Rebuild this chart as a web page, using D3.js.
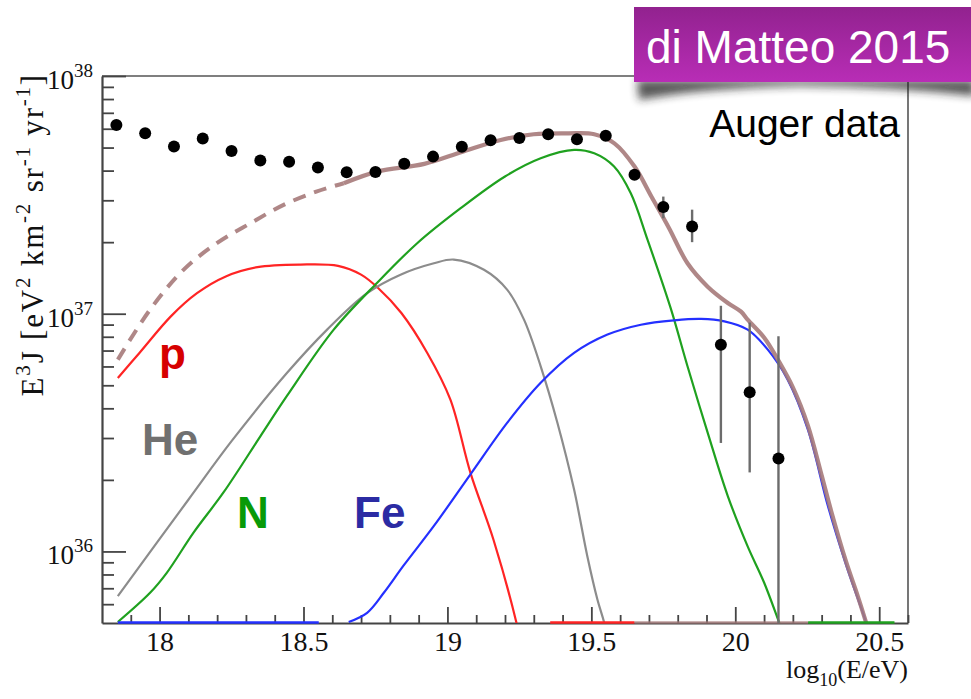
<!DOCTYPE html>
<html>
<head>
<meta charset="utf-8">
<script src="https://cdn.jsdelivr.net/npm/d3@7"></script>
<style>
  html, body { margin: 0; padding: 0; background: #fff; }
  svg { display: block; }
</style>
</head>
<body>
<svg id="chart" width="971" height="699"></svg>
<script>
// ---- Auger combined spectrum, E^3 J ----
const augerLogE = [17.85, 17.95, 18.05, 18.15, 18.25, 18.35, 18.45, 18.55, 18.65, 18.75,
                   18.85, 18.95, 19.05, 19.15, 19.25, 19.35, 19.45, 19.55, 19.65, 19.75,
                   19.85, 19.95, 20.05, 20.15];
const augerFlux = [6.22e37, 5.74e37, 5.05e37, 5.46e37, 4.84e37, 4.41e37, 4.36e37, 4.12e37,
                   3.94e37, 3.95e37, 4.27e37, 4.58e37, 5.04e37, 5.37e37, 5.48e37, 5.69e37,
                   5.42e37, 5.61e37, 3.84e37, 2.81e37, 2.33e37, 7.41e36, 4.67e36, 2.46e36];
const augerErrLow  = [null, null, null, null, null, null, null, null, null, null, null, null,
                      null, null, null, null, null, null, 3.66e37, 2.52e37, 2.00e37, 2.86e36,
                      2.15e36, 3.0e35];
const augerErrHigh = [null, null, null, null, null, null, null, null, null, null, null, null,
                      null, null, null, null, null, null, 4.04e37, 3.11e37, 2.74e37, 1.08e37,
                      9.18e36, 8.04e36];

// ---- model components (log10 E, E^3 J) ----
const pLogE  = [17.855, 17.93, 18.04, 18.13, 18.23, 18.34, 18.49, 18.62, 18.70, 18.76,
                18.84, 18.93, 19.01, 19.08, 19.16, 19.24, 19.30];
const pFlux  = [5.37e36, 6.84e36, 9.77e36, 1.22e37, 1.435e37, 1.57e37, 1.61e37, 1.59e37,
                1.46e37, 1.28e37, 1.007e37, 6.84e36, 4.36e36, 2.14e36, 1.12e36, 5.0e35, 2.2e35];

const heLogE = [17.855, 18.10, 18.25, 18.443, 18.582, 18.721, 18.837, 18.953, 19.022,
                19.127, 19.208, 19.266, 19.324, 19.382, 19.440, 19.486, 19.521, 19.545, 19.58];
const heFlux = [6.49e35, 1.65e36, 2.91e36, 5.64e36, 8.57e36, 1.22e37, 1.46e37,
                1.63e37, 1.69e37, 1.53e37, 1.26e37, 9.44e36, 6.01e36, 3.48e36, 1.82e36,
                9.55e35, 6.28e35, 5.0e35, 3.2e35];

const nLogE  = [17.855, 17.967, 18.025, 18.118, 18.222, 18.350, 18.443, 18.605, 18.756, 18.895,
                19.046, 19.20, 19.324, 19.440, 19.510, 19.579, 19.637, 19.695, 19.775, 19.834,
                19.904, 19.974, 20.043, 20.10, 20.153, 20.20];
const nFlux  = [5.05e35, 6.70e35, 8.13e35, 1.20e36, 1.77e36, 3.05e36, 4.52e36, 8.57e36,
                1.35e37, 1.98e37, 2.78e37, 3.78e37, 4.51e37, 4.89e37, 4.73e37, 4.16e37,
                3.21e37, 2.05e37, 1.06e37, 6.01e36, 3.16e36, 1.71e36, 1.05e36, 7.4e35,
                5.0e35, 3.5e35];

const feLogE = [18.657, 18.721, 18.779, 18.848, 18.953, 19.080, 19.208, 19.324, 19.440, 19.556,
                19.672, 19.788, 19.881, 19.962, 20.043, 20.113, 20.182, 20.252, 20.322, 20.384,
                20.426, 20.455, 20.50];
const feFlux = [5.05e35, 5.52e35, 6.70e35, 8.73e35, 1.28e36, 2.11e36, 3.48e36, 5.12e36,
                6.84e36, 8.17e36, 8.99e36, 9.38e36, 9.51e36, 9.29e36, 8.57e36, 7.06e36,
                5.28e36, 3.26e36, 1.55e36, 8.85e35, 6.31e35, 5.0e35, 3.2e35];

const totalLogE = [17.855, 17.967, 18.083, 18.199, 18.315, 18.431, 18.547, 18.640, 18.756, 18.92,
                   19.05, 19.185, 19.30, 19.42, 19.51, 19.58, 19.65, 19.71, 19.77, 19.834,
                   19.904, 19.974, 20.020, 20.043, 20.10, 20.148, 20.20, 20.252, 20.30, 20.333,
                   20.384, 20.426, 20.455];
const totalFlux = [6.41e36, 1.04e37, 1.53e37, 1.98e37, 2.40e37, 2.87e37, 3.27e37, 3.54e37,
                   3.96e37, 4.27e37, 4.79e37, 5.38e37, 5.69e37, 5.74e37, 5.69e37, 5.21e37,
                   4.16e37, 3.09e37, 2.29e37, 1.63e37, 1.30e37, 1.11e37, 1.02e37, 9.44e36,
                   7.94e36, 6.41e36, 4.90e36, 3.39e36, 2.09e36, 1.48e36, 9.12e35, 6.46e35, 5.0e35];
// model is fitted above this energy; extrapolated (dashed) below it
const fitThresholdLogE = 18.64;

// energy ranges where a component carries no flux (drawn on the lower edge)
const zeroRuns = [
  { series: "Fe",    from: 17.855, to: 18.553 },
  { series: "p",     from: 19.357, to: 19.650 },
  { series: "total", from: 19.650, to: 20.253 },
  { series: "N",     from: 20.253, to: 20.553 }
];

// ---- axes ----
const xDomain = [17.8, 20.6];
const yDomain = [5e35, 1e38];
const xMajorTicks = [18, 18.5, 19, 19.5, 20, 20.5];
const xTickLabels = ["18", "18.5", "19", "19.5", "20", "20.5"];
const yMajorTicks = [1e36, 1e37, 1e38];
const yTickExponents = ["36", "37", "38"];

// ---- drawing ----
const plot = { left: 102, right: 908, top: 76, bottom: 623 };
const axisColor = "#444";
const serif = "'Liberation Serif', 'Times New Roman', Times, serif";
const sans = "'Liberation Sans', Arial, Helvetica, sans-serif";

const colors = { p: "#ff2424", He: "#8c8c8c", N: "#1fa11f", Fe: "#2430ff", total: "#a67a7a" };

const svg = d3.select("#chart");
const x = d3.scaleLinear().domain(xDomain).range([plot.left, plot.right]);
const y = d3.scaleLog().domain(yDomain).range([plot.bottom, plot.top]);

const defs = svg.append("defs");
defs.append("clipPath").attr("id", "plotClip")
  .append("rect")
  .attr("x", plot.left).attr("y", plot.top)
  .attr("width", plot.right - plot.left).attr("height", plot.bottom - plot.top);

const grad = defs.append("linearGradient").attr("id", "tagGrad")
  .attr("x1", 0).attr("y1", 0).attr("x2", 0).attr("y2", 1);
grad.append("stop").attr("offset", "0%").attr("stop-color", "#92228f");
grad.append("stop").attr("offset", "100%").attr("stop-color", "#b82db6");

const blur = defs.append("filter").attr("id", "soft")
  .attr("x", "-20%").attr("y", "-50%").attr("width", "140%").attr("height", "200%");
blur.append("feGaussianBlur").attr("stdDeviation", 4);

// frame (top and right edges)
svg.append("path")
  .attr("d", `M${plot.left},${plot.top}H${plot.right}V${plot.bottom}`)
  .attr("fill", "none").attr("stroke", "#555").attr("stroke-width", 1.6);

// x axis: major + minor ticks pointing inward
const xMinorTicks = d3.range(179, 207).map(v => v / 10).filter(v => !xMajorTicks.some(m => Math.abs(m - v) < 1e-9));
const gxMinor = svg.append("g").attr("transform", `translate(0,${plot.bottom})`)
  .call(d3.axisBottom(x).tickValues(xMinorTicks).tickSize(-8).tickFormat(""));
gxMinor.select(".domain").remove();
const gx = svg.append("g").attr("transform", `translate(0,${plot.bottom})`)
  .call(d3.axisBottom(x).tickValues(xMajorTicks).tickSize(-16).tickSizeOuter(0)
    .tickPadding(9).tickFormat((d, i) => xTickLabels[i]));
[gx, gxMinor].forEach(g => {
  g.selectAll(".tick line").attr("stroke", axisColor).attr("stroke-width", 1.8);
});
gx.select(".domain").attr("stroke", axisColor).attr("stroke-width", 2.2);
gx.selectAll(".tick text")
  .attr("font-family", serif).attr("font-size", 28).attr("fill", "#111").attr("dy", "0.68em");

// y axis: major + minor ticks pointing inward
const yMinorTicks = [];
[35, 36, 37].forEach(e => { for (let m = 2; m <= 9; m++) { const v = m * Math.pow(10, e); if (v > yDomain[0] && v < yDomain[1]) yMinorTicks.push(v); } });
const gyMinor = svg.append("g").attr("transform", `translate(${plot.left},0)`)
  .call(d3.axisLeft(y).tickValues(yMinorTicks).tickSize(-12).tickFormat(""));
gyMinor.select(".domain").remove();
const gy = svg.append("g").attr("transform", `translate(${plot.left},0)`)
  .call(d3.axisLeft(y).tickValues(yMajorTicks).tickSize(-24).tickSizeOuter(0).tickFormat(""));
[gy, gyMinor].forEach(g => {
  g.selectAll(".tick line").attr("stroke", axisColor).attr("stroke-width", 1.8);
});
gy.select(".domain").attr("stroke", axisColor).attr("stroke-width", 2.2);

// y tick labels as 10^n
const yLab = svg.append("g");
yMajorTicks.forEach((v, i) => {
  const t = yLab.append("text")
    .attr("x", plot.left - 9).attr("y", y(v) + 13)
    .attr("text-anchor", "end")
    .attr("font-family", serif).attr("font-size", 27).attr("fill", "#111");
  t.append("tspan").text("10");
  t.append("tspan").attr("dy", -12).attr("font-size", 19).text(yTickExponents[i]);
});

// axis titles
const xt = svg.append("text")
  .attr("x", plot.right).attr("y", 678)
  .attr("text-anchor", "end")
  .attr("font-family", serif).attr("font-size", 26).attr("fill", "#111");
xt.append("tspan").text("log");
xt.append("tspan").attr("dy", 8).attr("font-size", 18).text("10");
xt.append("tspan").attr("dy", -8).text("(E/eV)");

const yt = svg.append("text")
  .attr("transform", `translate(43,${plot.top - 3}) rotate(-90)`)
  .attr("text-anchor", "end")
  .attr("font-family", serif).attr("font-size", 31).attr("letter-spacing", 1.8)
  .attr("fill", "#111");
const ytParts = [["E", 0], ["3", 1], ["J [eV", 0], ["2", 1], [" km", 0], ["-2", 1],
                 [" sr", 0], ["-1", 1], [" yr", 0], ["-1", 1], ["]", 0]];
let raised = false;
ytParts.forEach(([s, sup]) => {
  const ts = yt.append("tspan").text(s);
  if (sup && !raised) { ts.attr("dy", -13).attr("font-size", 21); raised = true; }
  else if (sup) { ts.attr("font-size", 21); }
  else if (!sup && raised) { ts.attr("dy", 13); raised = false; }
});

// model curves
const zip = (xs, ys) => xs.map((v, i) => [v, ys[i]]);
const line = d3.line()
  .defined(d => d[1] > 0)
  .x(d => x(d[0])).y(d => y(d[1]))
  .curve(d3.curveCatmullRom.alpha(0.5));

const curves = svg.append("g").attr("clip-path", "url(#plotClip)");
const comps = [
  { key: "p", data: zip(pLogE, pFlux) },
  { key: "He", data: zip(heLogE, heFlux) },
  { key: "N", data: zip(nLogE, nFlux) },
  { key: "Fe", data: zip(feLogE, feFlux) }
];
comps.forEach(c => {
  curves.append("path").attr("d", line(c.data))
    .attr("fill", "none").attr("stroke", colors[c.key]).attr("stroke-width", 2.2)
    .attr("stroke-linejoin", "round");
});

// total: extrapolated part dashed, fitted part solid
const totalData = zip(totalLogE, totalFlux);
const extrap = totalData.filter(d => d[0] <= fitThresholdLogE);
const fitted = totalData.filter(d => d[0] >= fitThresholdLogE);
curves.append("path").attr("d", line(extrap))
  .attr("fill", "none").attr("stroke", colors.total).attr("stroke-width", 4)
  .attr("stroke-dasharray", "13,9").attr("opacity", 0.9);
curves.append("path").attr("d", line(fitted))
  .attr("fill", "none").attr("stroke", colors.total).attr("stroke-width", 4.2)
  .attr("stroke-linejoin", "round").attr("opacity", 0.9);

// zero-flux runs along the lower edge
svg.append("g").selectAll("line").data(zeroRuns).join("line")
  .attr("x1", d => x(d.from)).attr("x2", d => x(d.to))
  .attr("y1", y(yDomain[0]) - 0.5).attr("y2", y(yDomain[0]) - 0.5)
  .attr("stroke", d => colors[d.series])
  .attr("stroke-width", 2.6)
  .attr("opacity", d => d.series === "total" ? 0.75 : 1);

// data points with error bars
const pts = augerLogE.map((e, i) => ({ e, f: augerFlux[i], lo: augerErrLow[i], hi: augerErrHigh[i] }));
const dataG = svg.append("g").attr("clip-path", "url(#plotClip)");
dataG.selectAll("line").data(pts.filter(d => d.lo !== null)).join("line")
  .attr("x1", d => x(d.e)).attr("x2", d => x(d.e))
  .attr("y1", d => y(Math.max(d.lo, yDomain[0] * 0.5))).attr("y2", d => y(d.hi))
  .attr("stroke", "#6c6c6c").attr("stroke-width", 2.4);
svg.append("g").selectAll("circle").data(pts).join("circle")
  .attr("cx", d => x(d.e)).attr("cy", d => y(d.f)).attr("r", 6)
  .attr("fill", "#000");

// component labels
const labels = [
  { t: "p", x: 159, y: 369, c: "#d60000" },
  { t: "He", x: 142, y: 455, c: "#707070" },
  { t: "N", x: 237, y: 528, c: "#089a08" },
  { t: "Fe", x: 354, y: 528, c: "#2b2ba3" }
];
svg.append("g").selectAll("text").data(labels).join("text")
  .attr("x", d => d.x).attr("y", d => d.y)
  .attr("font-family", sans).attr("font-weight", "bold").attr("font-size", 44)
  .attr("fill", d => d.c).text(d => d.t);

// data set caption
svg.append("text").attr("x", 900).attr("y", 137).attr("text-anchor", "end")
  .attr("font-family", sans).attr("font-size", 39).attr("fill", "#000")
  .text("Auger data");

// reference tag with a lifted shadow
svg.append("path")
  .attr("d", "M637,80 L639,100 Q700,88 800,86 Q900,87 975,96 L975,80 Z")
  .attr("fill", "#222").attr("opacity", 0.75).attr("filter", "url(#soft)");
svg.append("rect").attr("x", 634).attr("y", 7).attr("width", 345).attr("height", 75)
  .attr("fill", "url(#tagGrad)");
svg.append("text").attr("x", 646).attr("y", 63)
  .attr("font-family", sans).attr("font-size", 46).attr("fill", "#fff")
  .text("di Matteo 2015");
</script>
</body>
</html>
